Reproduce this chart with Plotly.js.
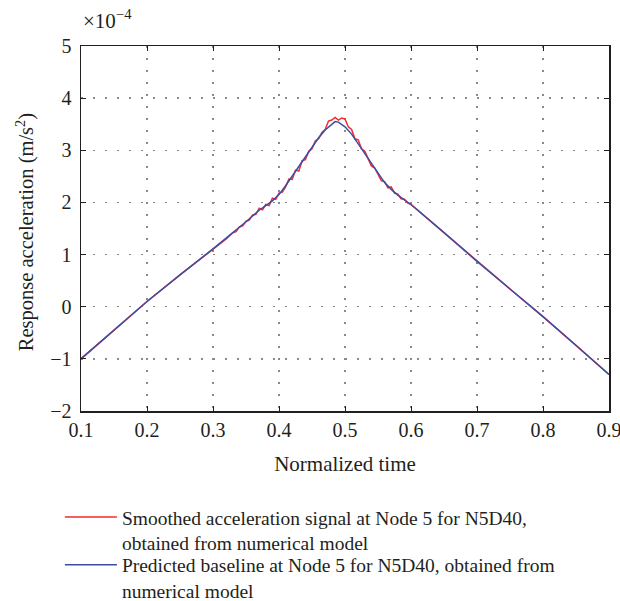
<!DOCTYPE html>
<html>
<head>
<meta charset="utf-8">
<script src="https://cdn.plot.ly/plotly-3.0.1.min.js"></script>
<style>
  html, body { margin: 0; padding: 0; background: #fff; }
  #chart { width: 620px; height: 601px; }
</style>
</head>
<body>
<div id="chart"></div>
<script>
// Normalized time samples and response acceleration (x 1e-4 m/s^2)
const smoothedTime = [0.10, 0.15, 0.20, 0.25, 0.30, 0.32, 0.33, 0.335, 0.34, 0.345, 0.35, 0.355, 0.36, 0.365, 0.37, 0.375, 0.38, 0.385, 0.39, 0.395, 0.40, 0.405, 0.41, 0.415, 0.42, 0.425, 0.43, 0.435, 0.44, 0.445, 0.45, 0.455, 0.46, 0.465, 0.47, 0.475, 0.48, 0.485, 0.49, 0.495, 0.50, 0.505, 0.51, 0.515, 0.52, 0.525, 0.53, 0.535, 0.54, 0.545, 0.55, 0.555, 0.56, 0.565, 0.57, 0.575, 0.58, 0.585, 0.59, 0.595, 0.60, 0.65, 0.70, 0.75, 0.80, 0.85, 0.90];
const smoothedValues = [-1.00, -0.45, 0.10, 0.61, 1.11, 1.30, 1.42, 1.44, 1.53, 1.55, 1.64, 1.66, 1.76, 1.77, 1.89, 1.86, 1.96, 1.94, 2.08, 2.06, 2.18, 2.20, 2.30, 2.45, 2.44, 2.62, 2.60, 2.80, 2.82, 2.98, 3.03, 3.18, 3.22, 3.34, 3.40, 3.56, 3.58, 3.63, 3.58, 3.62, 3.60, 3.45, 3.40, 3.22, 3.20, 3.03, 2.98, 2.84, 2.70, 2.66, 2.55, 2.42, 2.40, 2.28, 2.30, 2.18, 2.16, 2.07, 2.06, 1.99, 1.96, 1.42, 0.87, 0.34, -0.19, -0.74, -1.30];

const baselineTime = [0.10, 0.15, 0.20, 0.25, 0.30, 0.35, 0.37, 0.39, 0.40, 0.41, 0.42, 0.43, 0.44, 0.45, 0.46, 0.47, 0.48, 0.485, 0.49, 0.50, 0.51, 0.52, 0.53, 0.54, 0.55, 0.56, 0.57, 0.58, 0.59, 0.60, 0.65, 0.70, 0.75, 0.80, 0.85, 0.90];
const baselineValues = [-1.00, -0.45, 0.10, 0.61, 1.11, 1.63, 1.85, 2.03, 2.15, 2.32, 2.50, 2.68, 2.87, 3.06, 3.24, 3.39, 3.50, 3.55, 3.54, 3.45, 3.31, 3.12, 2.93, 2.75, 2.55, 2.38, 2.25, 2.14, 2.05, 1.96, 1.42, 0.87, 0.34, -0.19, -0.74, -1.30];

const xTicks = [0.1, 0.2, 0.3, 0.4, 0.5, 0.6, 0.7, 0.8, 0.9];
const xTickText = ['0.1', '0.2', '0.3', '0.4', '0.5', '0.6', '0.7', '0.8', '0.9'];
const yTicks = [-2, -1, 0, 1, 2, 3, 4, 5];
const yTickText = ['\u22122', '\u22121', '0', '1', '2', '3', '4', '5'];

const seriesNames = [
  'Smoothed acceleration signal at Node 5 for N5D40,<br>obtained from numerical model',
  'Predicted baseline at Node 5 for N5D40, obtained from<br>numerical model'
];

const FONT = 'Liberation Serif, Times New Roman, serif';
const TXT = '#231f20';

const traces = [
  {
    x: smoothedTime, y: smoothedValues, type: 'scatter', mode: 'lines',
    name: seriesNames[0], line: {color: '#f52a2a', width: 1.5}, legend: 'legend'
  },
  {
    x: baselineTime, y: baselineValues, type: 'scatter', mode: 'lines',
    name: seriesNames[1], line: {color: '#3d4da3', width: 1.5}, legend: 'legend2'
  }
];

const axisCommon = {
  showline: true, linecolor: '#231f20', linewidth: 1.5, mirror: 'ticks',
  ticks: 'inside', ticklen: 5, tickwidth: 1, tickcolor: '#231f20',
  showgrid: true, gridcolor: '#8a8a8a', gridwidth: 1.3, griddash: '1.5px,10.5px',
  zeroline: false, automargin: false, ticklabeloverflow: 'allow',
  tickfont: {family: FONT, size: 20, color: TXT}
};

const legendCommon = {
  x: -0.04, xanchor: 'left', yanchor: 'top',
  font: {family: FONT, size: 19.5, color: TXT},
  valign: 'top', itemwidth: 52,
  bgcolor: 'rgba(0,0,0,0)', borderwidth: 0
};

const layout = {
  width: 620, height: 601,
  margin: {l: 81, r: 11, t: 46, b: 190, autoexpand: false},
  paper_bgcolor: '#fff', plot_bgcolor: '#fff',
  font: {family: FONT, color: TXT, size: 20},
  xaxis: Object.assign({}, axisCommon, {
    range: [0.1, 0.9], tickvals: xTicks, ticktext: xTickText,
    ticklabelstandoff: 0,
    title: {text: 'Normalized time', font: {family: FONT, size: 21, color: TXT}, standoff: 17}
  }),
  yaxis: Object.assign({}, axisCommon, {
    range: [-2, 5], tickvals: yTicks, ticktext: yTickText,
    ticklabelstandoff: 4
  }),
  showlegend: true,
  legend: Object.assign({}, legendCommon, {y: -0.238}),
  legend2: Object.assign({}, legendCommon, {y: -0.369}),
  annotations: [
    {
      xref: 'paper', yref: 'paper', x: 0, y: 1, xanchor: 'left', yanchor: 'bottom',
      yshift: 11, showarrow: false,
      text: '\u00d710<sup>\u22124</sup>', font: {family: FONT, size: 21, color: TXT}
    },
    {
      xref: 'paper', yref: 'paper', x: -0.106, y: 0.49, xanchor: 'center', yanchor: 'middle',
      textangle: -90, showarrow: false,
      text: 'Response acceleration (m/s<sup>2</sup>)', font: {family: FONT, size: 20.5, color: TXT}
    }
  ]
};

Plotly.newPlot('chart', traces, layout, {displayModeBar: false, staticPlot: true});
</script>
</body>
</html>
